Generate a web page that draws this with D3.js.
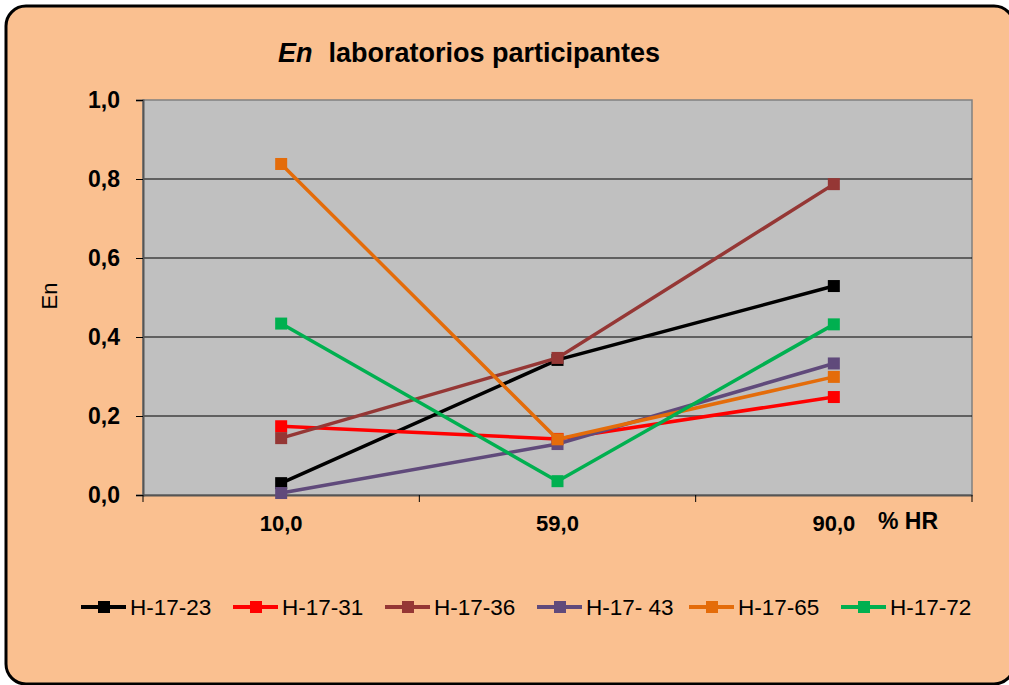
<html>
<head>
<title>En laboratorios participantes</title>
<script src="https://cdnjs.cloudflare.com/ajax/libs/d3/7.8.5/d3.min.js"></script>
<style>
  body { margin: 0; background: #fff; }
  svg { display: block; font-family: "Liberation Sans", Arial, sans-serif; }
</style>
</head>
<body>
<svg width="1009" height="685"></svg>
<script>
// categories (% HR) and tick labels
var categories = ["10,0", "59,0", "90,0"];
var yTicks = [0, 0.2, 0.4, 0.6, 0.8, 1.0];

// series values
var labNames = ["H-17-23", "H-17-31", "H-17-36", "H-17- 43", "H-17-65", "H-17-72"];
var h1723 = [0.030, 0.342, 0.529];
var h1731 = [0.174, 0.142, 0.248];
var h1736 = [0.144, 0.347, 0.787];
var h1743 = [0.005, 0.129, 0.333];
var h1765 = [0.838, 0.141, 0.299];
var h1772 = [0.434, 0.035, 0.432];
var colors = ["#000000", "#ff0000", "#953735", "#604a7b", "#e46c0a", "#00b050"];

var series = [h1723, h1731, h1736, h1743, h1765, h1772].map(function (v, i) {
  return { name: labNames[i], color: colors[i], values: v };
});

var svg = d3.select("svg");

// outer rounded frame
svg.append("rect")
  .attr("x", 6).attr("y", 6)
  .attr("width", 1008).attr("height", 678)
  .attr("rx", 20)
  .attr("fill", "#fac090")
  .attr("stroke", "#000").attr("stroke-width", 3);

// scales
var xScale = d3.scaleBand().domain(categories).range([143, 972]).padding(0);
var yScale = d3.scaleLinear().domain([0, 1]).range([495, 100]);

// plot area
svg.append("rect")
  .attr("x", 143).attr("y", 100)
  .attr("width", 829).attr("height", 395)
  .attr("fill", "#c0c0c0")
  .attr("stroke", "#808080").attr("stroke-width", 1.5);

// gridlines
svg.append("g")
  .selectAll("line")
  .data(yTicks.filter(function (d) { return d > 0 && d < 1; }))
  .enter().append("line")
  .attr("x1", 143).attr("x2", 972)
  .attr("y1", function (d) { return yScale(d); })
  .attr("y2", function (d) { return yScale(d); })
  .attr("stroke", "#000").attr("stroke-width", 1);

// y axis
var yAxis = d3.axisLeft(yScale)
  .tickValues(yTicks)
  .tickSize(7)
  .tickPadding(16)
  .tickFormat(function (d) { return d3.format(".1f")(d).replace(".", ","); });

var gy = svg.append("g")
  .attr("transform", "translate(143,0)")
  .call(yAxis);
gy.select(".domain").attr("stroke", "#555").attr("stroke-width", 2);
gy.selectAll(".tick line").attr("stroke", "#000");
gy.selectAll(".tick text")
  .attr("font-size", 23).attr("font-weight", "bold")
  .attr("font-family", "Liberation Sans, Arial, sans-serif")
  .attr("fill", "#000");

// x axis: labels at band centres, ticks on band boundaries
var xAxis = d3.axisBottom(xScale).tickSize(0).tickPadding(20);
var gx = svg.append("g")
  .attr("transform", "translate(0,495)")
  .call(xAxis);
gx.select(".domain").attr("stroke", "#555").attr("stroke-width", 2);
gx.selectAll(".tick text")
  .attr("font-size", 22).attr("font-weight", "bold")
  .attr("font-family", "Liberation Sans, Arial, sans-serif")
  .attr("fill", "#000");

var bounds = categories.map(function (c) { return xScale(c); }).concat([xScale.range()[1]]);
svg.append("g")
  .selectAll("line")
  .data(bounds)
  .enter().append("line")
  .attr("x1", function (d) { return d; }).attr("x2", function (d) { return d; })
  .attr("y1", 495).attr("y2", 502)
  .attr("stroke", "#000").attr("stroke-width", 1);

// axis titles
svg.append("text")
  .attr("x", 878).attr("y", 529)
  .attr("font-size", 23).attr("font-weight", "bold")
  .text("% HR");

svg.append("text")
  .attr("transform", "translate(57,296) rotate(-90)")
  .attr("text-anchor", "middle")
  .attr("font-size", 22)
  .text("En");

// title
var title = svg.append("text")
  .attr("x", 278).attr("y", 62)
  .attr("font-size", 27).attr("font-weight", "bold");
title.append("tspan").attr("font-style", "italic").text("En");
title.append("tspan").attr("dx", 16).text("laboratorios participantes");

// lines and markers
var line = d3.line()
  .x(function (d, i) { return xScale(categories[i]) + xScale.bandwidth() / 2; })
  .y(function (d) { return yScale(d); });

var lab = svg.append("g").selectAll("g")
  .data(series)
  .enter().append("g");

lab.append("path")
  .attr("d", function (d) { return line(d.values); })
  .attr("fill", "none")
  .attr("stroke", function (d) { return d.color; })
  .attr("stroke-width", 3.5);

lab.selectAll("rect")
  .data(function (d) { return d.values.map(function (v, i) { return { v: v, i: i, color: d.color }; }); })
  .enter().append("rect")
  .attr("x", function (d) { return xScale(categories[d.i]) + xScale.bandwidth() / 2 - 6; })
  .attr("y", function (d) { return yScale(d.v) - 6; })
  .attr("width", 12).attr("height", 12)
  .attr("fill", function (d) { return d.color; });

// legend
var legend = svg.append("g").selectAll("g")
  .data(series)
  .enter().append("g")
  .attr("transform", function (d, i) { return "translate(" + (81 + i * 152) + ",607)"; });

legend.append("line")
  .attr("x1", 0).attr("x2", 45)
  .attr("stroke", function (d) { return d.color; })
  .attr("stroke-width", 4);
legend.append("rect")
  .attr("x", 17).attr("y", -6)
  .attr("width", 12).attr("height", 12)
  .attr("fill", function (d) { return d.color; });
legend.append("text")
  .attr("x", 49).attr("y", 8)
  .attr("font-size", 22.5)
  .text(function (d) { return d.name; });
</script>
</body>
</html>
